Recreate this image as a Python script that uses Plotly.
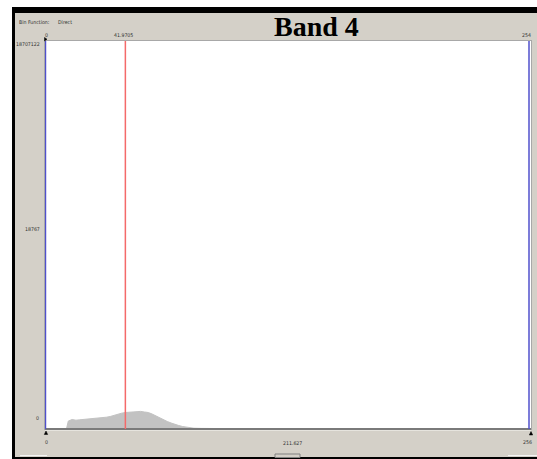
import plotly.graph_objects as go

# ---- data ----
bins = [11, 12, 14, 16, 18, 20, 22, 24, 26, 28, 30, 32, 34, 36, 38, 40, 42, 44, 46, 48,
        50, 52, 54, 56, 58, 60, 62, 64, 66, 68, 70, 72, 74, 76, 78, 82, 90, 100, 115, 130, 150]
counts = [0, 385700, 458000, 424300, 443600, 458000, 472500, 491800, 506200, 520700,
          540000, 568900, 602700, 665400, 723200, 761800, 795500, 810000, 838900, 819600,
          848600, 819600, 795500, 723200, 626800, 554500, 458000, 361600, 289300, 217000,
          168700, 120500, 86800, 57900, 38600, 28900, 16900, 9600, 4800, 2400, 0]

x_min, x_max = 0, 254
y_max = 18707122
y_mid_label = "18767"
marker_value = 41.9705
mean_label = "211.627"
bottom_max_label = "256"
title = "Band 4"

W, H = 537, 459
L, R, T, B = 45, 531, 41, 429  # plot area in pixels


def px(x):
    return (x - L) / (R - L)


def py(y):
    return (B - y) / (B - T)


fig = go.Figure(go.Scatter(
    x=bins, y=counts, mode="lines", fill="tozeroy",
    fillcolor="#c2c2c2", line=dict(color="#c2c2c2", width=1), hoverinfo="skip"))

shapes = []


def rect(x0, y0, x1, y1, color, line=None):
    shapes.append(dict(type="rect", xref="paper", yref="paper",
                       x0=px(x0), x1=px(x1), y0=py(y1), y1=py(y0),
                       fillcolor=color, line=dict(width=0) if line is None else line,
                       layer="above"))


# window frame
rect(0, 0, W, 7, "white")
rect(0, 0, 12, H, "white")
rect(12, 7, W, 13, "black")
rect(12, 7, 15, H, "black")
rect(12, 457, W, H, "black")
rect(275, 454, 300, 457.5, "rgba(0,0,0,0)", line=dict(color="#808080", width=1))
rect(20, 455, 47, 456, "#f4f4f4")
rect(508, 455, 537, 456, "#f4f4f4")
# light strip under the axis
rect(L, 429.5, R, 431, "#e6e4de")

# bottom axis line
shapes.append(dict(type="line", xref="paper", yref="paper", x0=0, x1=1, y0=0, y1=0,
                   line=dict(color="#7a7a7a", width=2), layer="above"))
# blue limit lines
for v in (x_min, x_max):
    shapes.append(dict(type="line", xref="x", yref="paper", x0=v, x1=v, y0=0, y1=1,
                       line=dict(color="#5050cc", width=1.5), layer="above"))
# red marker line
shapes.append(dict(type="line", xref="x", yref="paper", x0=marker_value, x1=marker_value,
                   y0=0, y1=1, line=dict(color="#f46a6a", width=1.5), layer="above"))


def tri(points):
    d = "M " + " L ".join(f"{px(a)},{py(b)}" for a, b in points) + " Z"
    shapes.append(dict(type="path", xref="paper", yref="paper", path=d,
                       fillcolor="black", line=dict(color="black", width=0.5), layer="above"))


tri([(46, 431), (44.3, 434.5), (47.7, 434.5)])
tri([(531, 431.5), (529.3, 435), (532.7, 435)])
tri([(44.5, 37.5), (44.5, 41), (47, 39.2)])

small = dict(family="DejaVu Sans Condensed, Liberation Sans Narrow, Arial Narrow, sans-serif",
             size=5.2, color="#303030")

ann = []


def text(t, x, y, xa="center", font=small):
    ann.append(dict(text=t, x=px(x), y=py(y), xref="paper", yref="paper",
                    xanchor=xa, yanchor="middle", showarrow=False, font=font))


text("Bin Function:", 17, 22, "left")
text("Direct", 56, 22, "left")
text(str(x_min), 46, 35)
text(f"{marker_value:.4f}", 123, 35)
text(str(x_max), 526, 35)
text(str(y_max), 42, 44, "right")
text(y_mid_label, 42, 229, "right")
text("0", 41, 418, "right")
text("0", 46, 442)
text(mean_label, 292, 443)
text(bottom_max_label, 527, 442)
text("<b>" + title + "</b>", 316, 27,
     font=dict(family="Liberation Serif, Times New Roman, serif", size=28, color="black"))

fig.update_layout(
    width=W, height=H, autosize=False,
    margin=dict(l=L, r=W - R, t=T, b=H - B, pad=0),
    paper_bgcolor="#d4d0c8", plot_bgcolor="white", showlegend=False,
    xaxis=dict(range=[-0.25, 255.05], showgrid=False, zeroline=False, showticklabels=False,
               ticks="", showline=True, mirror=True, linecolor="#a8a8a8", linewidth=1,
               fixedrange=True),
    yaxis=dict(range=[0, y_max], showgrid=False, zeroline=False, showticklabels=False,
               ticks="", showline=True, mirror=True, linecolor="#a8a8a8", linewidth=1,
               fixedrange=True),
    shapes=shapes, annotations=ann,
)

fig.write_html("out.html", config=dict(displayModeBar=False),
               post_script="document.body.style.margin='0';document.body.style.padding='0';"
                           "document.body.style.overflow='hidden';")
